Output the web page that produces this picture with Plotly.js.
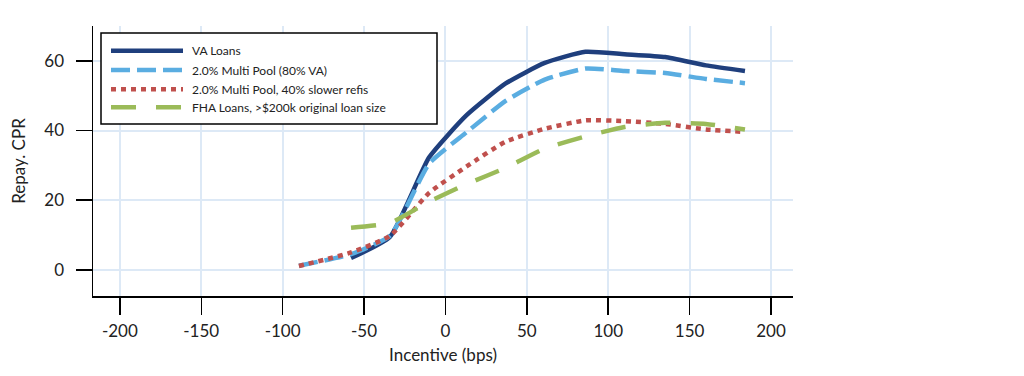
<!DOCTYPE html>
<html>
<head>
<meta charset="utf-8">
<script src="https://cdn.plot.ly/plotly-3.0.1.min.js"></script>
<style>
html,body{margin:0;padding:0;background:#fff;}
#chart{width:1024px;height:376px;}
</style>
</head>
<body>
<div id="chart"></div>
<script>
// ---- data ----
var incentive = [-90, -58, -34, -10, 13, 37, 61, 86, 110, 135, 160, 184];
var vaLoans   = [null, 3.4, 9.5, 32.3, 44.4, 53.5, 59.4, 62.6, 61.9, 61.1, 58.7, 57.1];
var multiPool = [1.2, 4.5, 9.8, 30.5, 39.5, 48.5, 54.6, 57.8, 57.1, 56.5, 54.8, 53.6];
var slowRefis = [1.1, 5.0, 9.8, 22.1, 29.7, 36.8, 40.5, 42.9, 42.7, 41.9, 40.3, 39.6];
var fhaLoans  = [null, 12.1, 13.5, 19.6, 24.6, 29.3, 34.8, 38.3, 41.0, 42.2, 41.9, 40.3];
var seriesNames = ["VA Loans", "2.0% Multi Pool (80% VA)", "2.0% Multi Pool, 40% slower refis", "FHA Loans, >$200k original loan size"];
var xTicks = [-200, -150, -100, -50, 0, 50, 100, 150, 200];
var yTicks = [0, 20, 40, 60];

// ---- styles ----
var styles = [
  {color: "#1f3f7d", width: 4.5, dash: "solid"},
  {color: "#5aade1", width: 4.5, dash: "19px,7px"},
  {color: "#c0504d", width: 4.5, dash: "5px,5px"},
  {color: "#9bbb59", width: 4.5, dash: "25px,20px"}
];
var seriesValues = [vaLoans, multiPool, slowRefis, fhaLoans];

var traces = seriesValues.map(function (vals, i) {
  return {
    type: "scatter", mode: "lines", name: seriesNames[i],
    x: incentive, y: vals, connectgaps: false,
    line: {color: styles[i].color, width: styles[i].width, dash: styles[i].dash, shape: "spline", smoothing: 0.5},
    showlegend: false, hoverinfo: "x+y+name"
  };
});

// plot area in pixels
var L = 93, R = 793, T = 26, B = 296, W = 1024, H = 376;
function px(x) { return (x - L) / (R - L); }
function py(y) { return (B - y) / (B - T); }

// custom legend (box, sample lines, labels)
var shapes = [{
  type: "rect", xref: "paper", yref: "paper", layer: "above",
  x0: px(101), x1: px(437), y0: py(124), y1: py(33),
  line: {color: "#000", width: 1.5}, fillcolor: "#fff"
}];
var annotations = [];
var legendY = [50.7, 70, 89.3, 107.3];
seriesNames.forEach(function (name, i) {
  shapes.push({
    type: "line", xref: "paper", yref: "paper", layer: "above",
    x0: px(111), x1: px(183), y0: py(legendY[i]), y1: py(legendY[i]),
    line: {color: styles[i].color, width: styles[i].width, dash: styles[i].dash}
  });
  annotations.push({
    xref: "paper", yref: "paper", x: px(190), y: py(legendY[i]),
    xanchor: "left", yanchor: "middle", showarrow: false,
    text: name, font: {family: "Lato, sans-serif", size: 12, color: "#222"}
  });
});

var layout = {
  width: W, height: H,
  margin: {l: L, r: W - R, t: T, b: H - B, pad: 0},
  paper_bgcolor: "#fff", plot_bgcolor: "#fff",
  font: {family: "Lato, sans-serif", size: 17, color: "#222"},
  showlegend: false,
  xaxis: {
    range: [-216.5, 213.5], tickvals: xTicks, ticktext: xTicks.map(String),
    showline: true, linecolor: "#000", linewidth: 1.5,
    ticks: "outside", ticklen: 17, tickwidth: 1.5, tickcolor: "#000",
    showgrid: true, gridcolor: "#dde9f6", gridwidth: 2, zeroline: false,
    tickfont: {size: 17}, ticklabelstandoff: 2, automargin: false,
    title: {text: "Incentive (bps)", font: {size: 17}, standoff: 9}
  },
  yaxis: {
    range: [-7.5, 70], tickvals: yTicks, ticktext: yTicks.map(String),
    showline: true, linecolor: "#000", linewidth: 1.5,
    ticks: "outside", ticklen: 16, tickwidth: 1.5, tickcolor: "#000",
    showgrid: true, gridcolor: "#dde9f6", gridwidth: 2, zeroline: false,
    tickfont: {size: 17}, ticklabelstandoff: 8, automargin: false,
    title: {text: "Repay. CPR", font: {size: 17}, standoff: 14}
  },
  shapes: shapes,
  annotations: annotations
};

Plotly.newPlot("chart", traces, layout, {displayModeBar: false, staticPlot: true});
</script>
</body>
</html>
